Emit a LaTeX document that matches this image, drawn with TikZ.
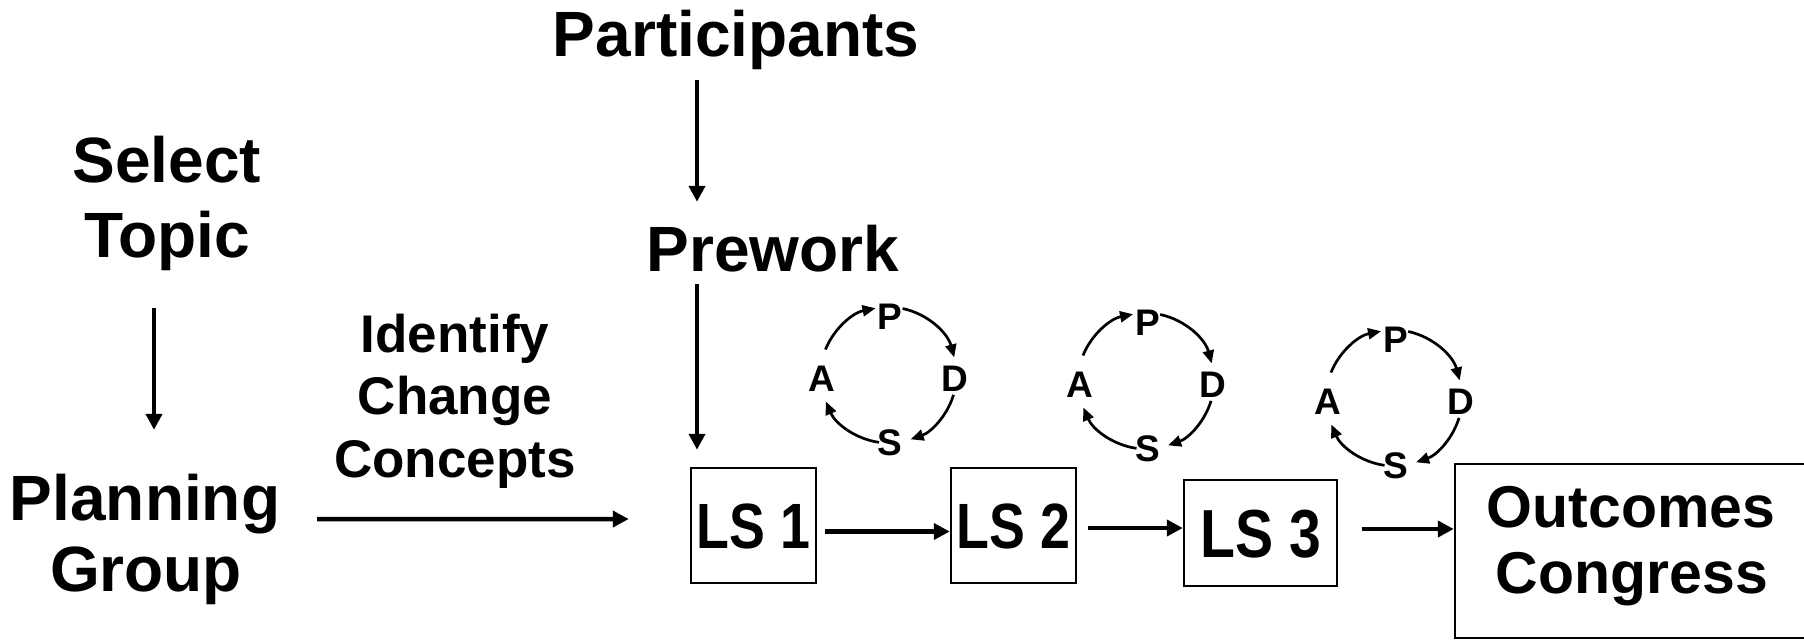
\documentclass[tikz,border=0pt]{standalone}
\usepackage{fontspec}
\usepackage{graphicx}
\setmainfont{Liberation Sans}
\usetikzlibrary{arrows.meta,calc}

\begin{document}
\begin{tikzpicture}[x=1pt,y=-1pt,
  lbl/.style={inner sep=0pt, text depth=0pt, anchor=base},
  big/.style={lbl, font=\fontsize{64}{75}\selectfont\bfseries, text height=46pt},
  mid/.style={lbl, font=\fontsize{53}{62}\selectfont\bfseries, text height=38pt},
  outl/.style={lbl, font=\fontsize{59}{66}\selectfont\bfseries, text height=42pt},
  lsbox/.style={draw, line width=2.5pt, inner sep=0pt, text depth=0pt},
  letter/.style={inner sep=0pt, text depth=0pt, text height=26pt,
                 font=\fontsize{37}{40}\selectfont\bfseries},
  arr/.style={line width=4.5pt, -{Triangle[length=16pt,width=16pt]}},
  parr/.style={line width=2.7pt, -{Triangle[length=13pt,width=11pt]}},
]
\useasboundingbox (0,0) rectangle (1804,641);

% left column
\node[big] (sel) at (167,182) {Select};
\node[big] (top) at (167,257) {Topic};
\node[big] (plan) at (145,520) {Planning};
\node[big] (grp) at (146,591) {Group};

% change concepts label
\node[mid] (idf) at (455,352) {Identify};
\node[mid] (chg) at (455,414) {Change};
\node[mid] (cnc) at (455,477) {Concepts};

% participants column
\node[big] (par) at (736,56) {Participants};
\node[big] (pre) at (773,271) {Prework};

% learning sessions
\node[lsbox, minimum width=125pt, minimum height=115pt, text height=45.8pt,
      font=\fontsize{64}{70}\selectfont\bfseries] (ls1) at (753.5,525.5) {\scalebox{0.84}[1]{LS 1}};
\node[lsbox, minimum width=125pt, minimum height=115pt, text height=45.8pt,
      font=\fontsize{64}{70}\selectfont\bfseries] (ls2) at (1013.5,525.5) {\scalebox{0.84}[1]{LS 2}};
\node[lsbox, minimum width=153pt, minimum height=106pt, text height=48.7pt,
      font=\fontsize{68}{74}\selectfont\bfseries] (ls3) at (1260.5,533) {\scalebox{0.84}[1]{LS 3}};

% outcomes congress
\node[draw, line width=2.5pt, minimum width=353pt, minimum height=174pt] (out) at (1631.5,551) {};
\node[outl] (outa) at (1631,527) {Outcomes};
\node[outl] (outb) at (1632,593) {Congress};

% main flow arrows
\draw[arr] ($(top.south)+(-13,51)$) -- ($(plan.north)+(9,-44)$);
\draw[arr] ($(cnc.south)+(-138,42)$) -- ($(ls1.west)+(-61,-6.5)$);
\draw[arr] ($(par.south)+(-39,24)$) -- ($(pre.north)+(-76,-23)$);
\draw[arr] ($(pre.south)+(-76,13)$) -- ($(ls1.north)+(-56.5,-17)$);
\draw[arr] ($(ls1.east)+(8,6)$) -- ($(ls2.west)+(0,6)$);
\draw[arr] ($(ls2.east)+(11,2.5)$) -- ($(ls3.west)+(0,-5)$);
\draw[arr] ($(ls3.east)+(24,-4)$) -- ($(out.west)+(0,-22)$);

% PDSA cycles
\foreach \i/\cx/\cy in {1/888.5/378, 2/1146/384, 3/1394/401} {
  \coordinate (o\i) at (\cx,\cy-3);
  \node[letter] (p\i) at (\cx+1.5,\cy-62) {P};
  \node[letter] (d\i) at (\cx+66.5,\cy) {D};
  \node[letter] (s\i) at (\cx+1.5,\cy+64) {S};
  \node[letter] (a\i) at (\cx-66.5,\cy) {A};
  \draw[parr] ([shift={(158:68pt)}]o\i) arc[start angle=158, end angle=101, radius=68pt];
  \draw[parr] ([shift={(78:68pt)}]o\i) arc[start angle=78, end angle=15, radius=68pt];
  \draw[parr] ([shift={(-17:68pt)}]o\i) arc[start angle=-17, end angle=-71, radius=68pt];
  \draw[parr] ([shift={(-98:68pt)}]o\i) arc[start angle=-98, end angle=-157, radius=68pt];
}
\end{tikzpicture}
\end{document}
